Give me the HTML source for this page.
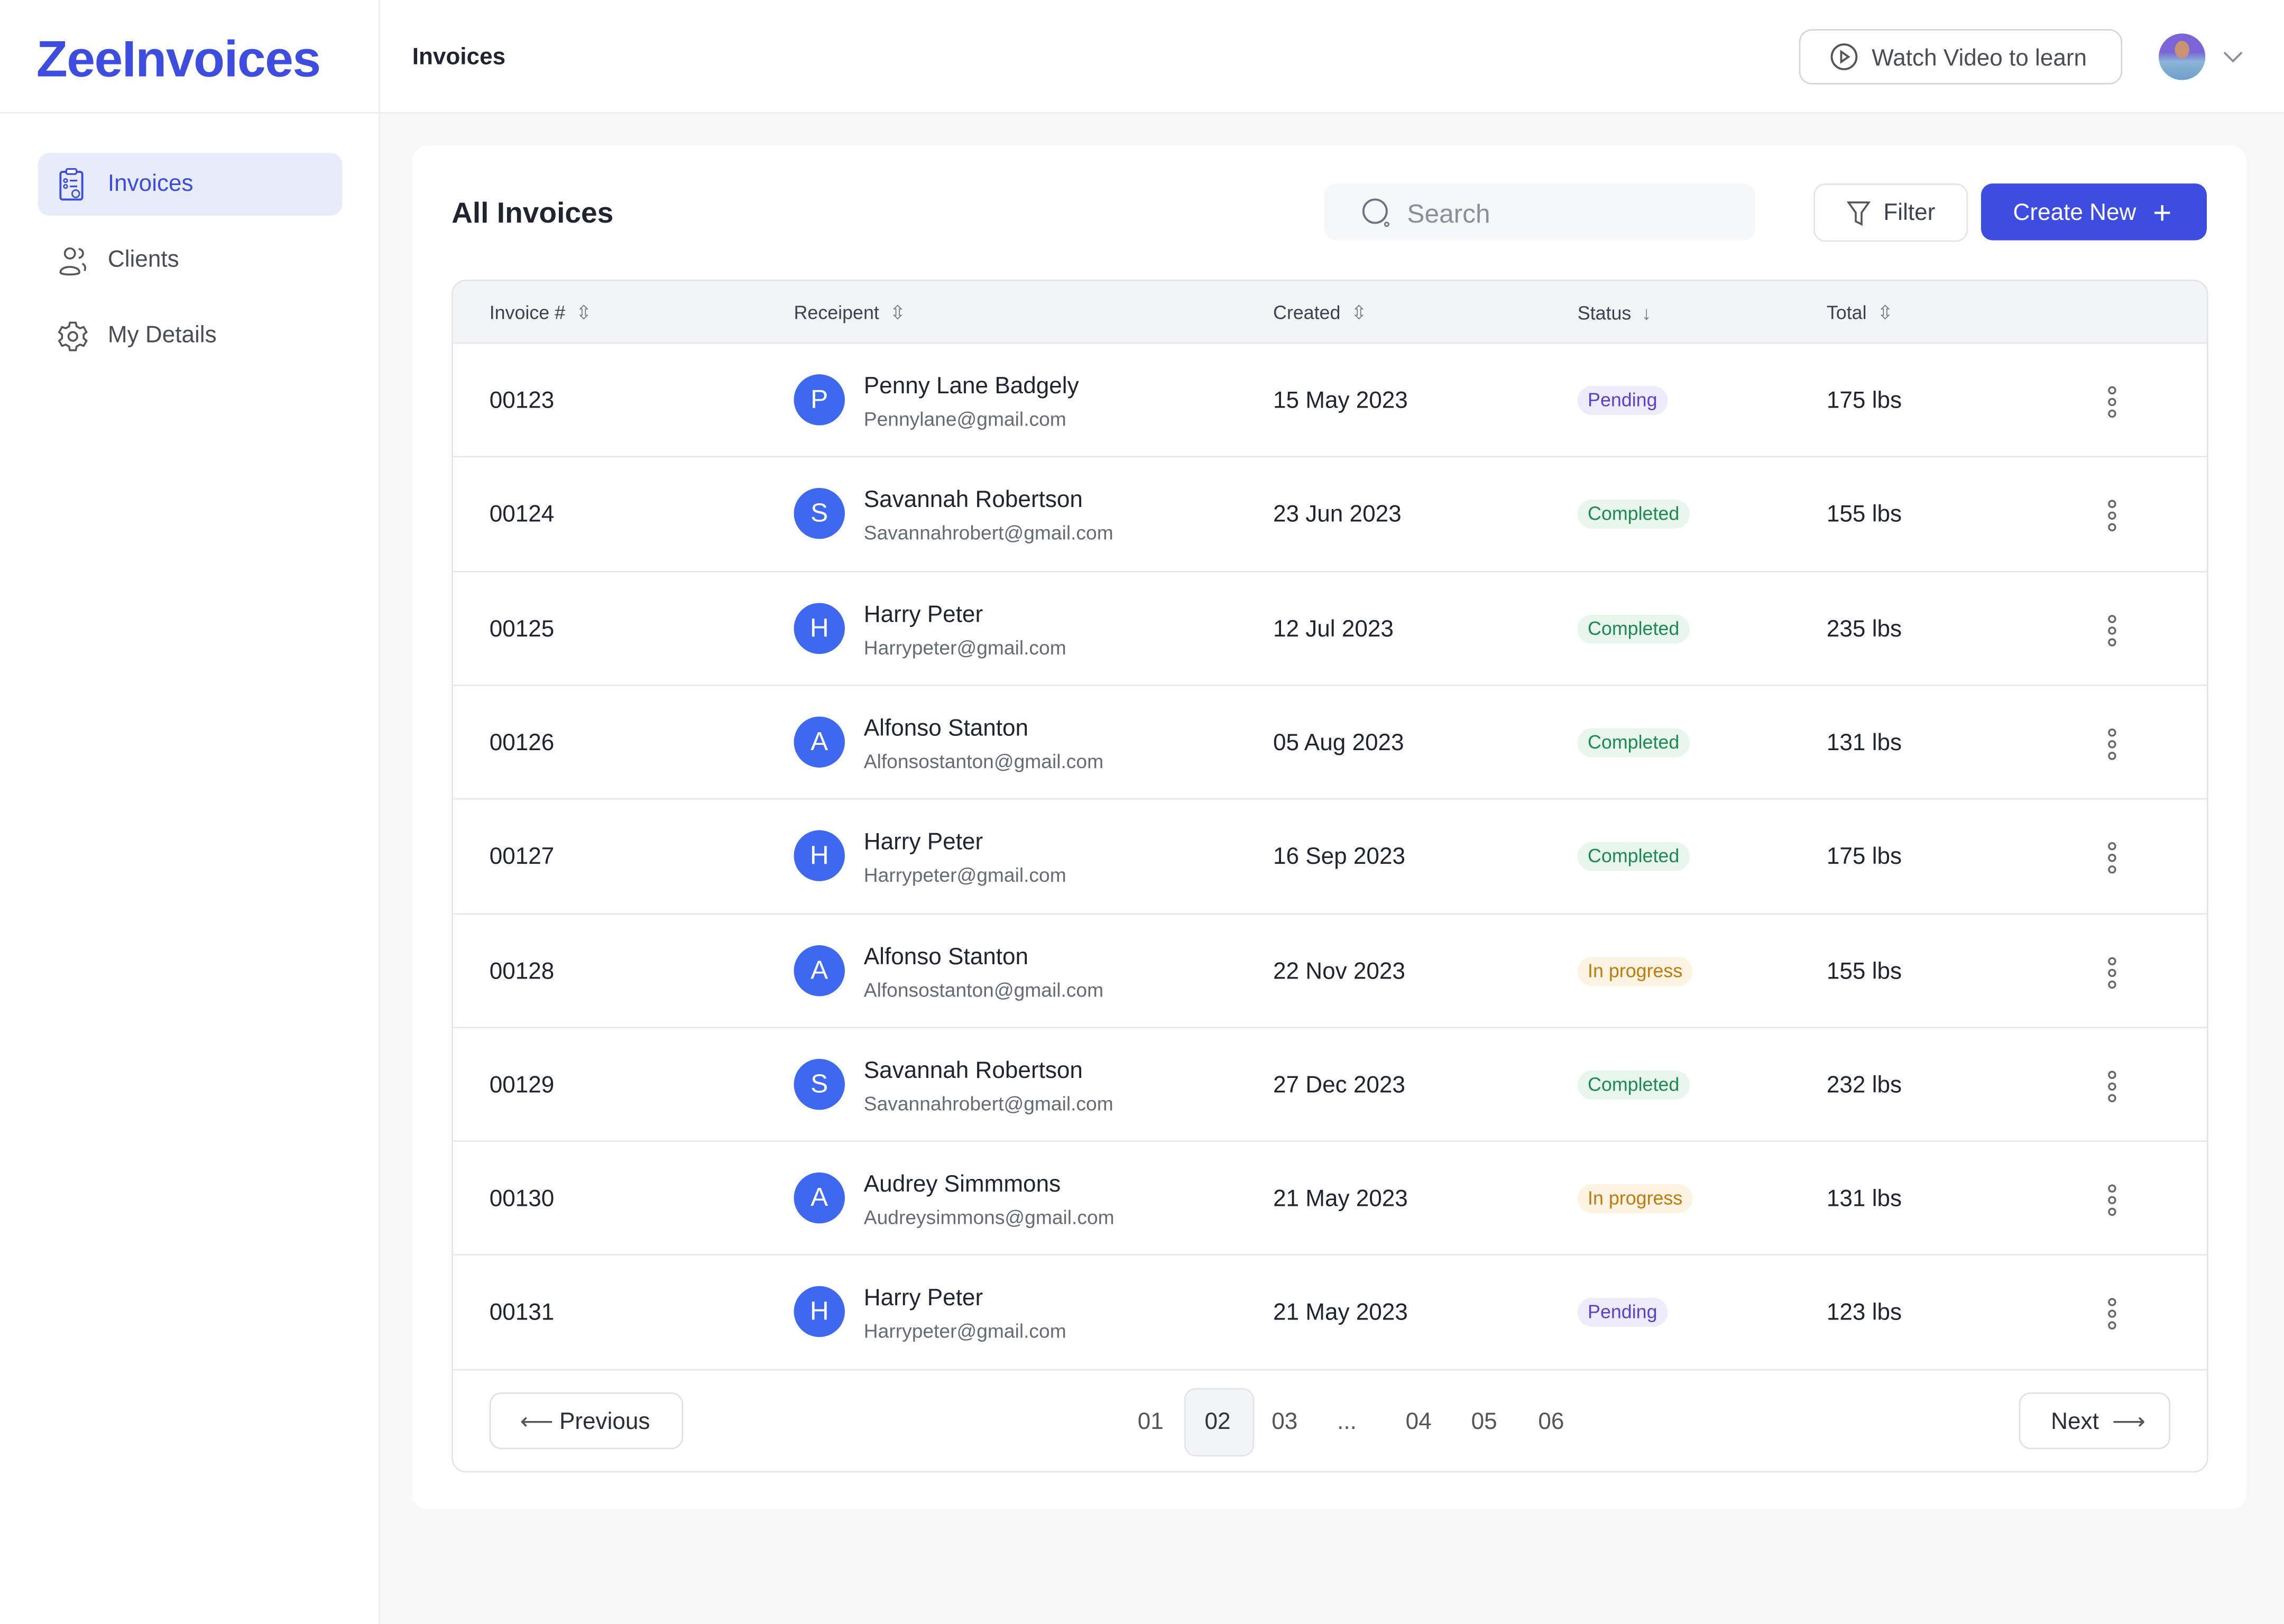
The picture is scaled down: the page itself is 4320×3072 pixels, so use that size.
<!DOCTYPE html>
<html><head><meta charset="utf-8"><style>
html,body{margin:0;padding:0;width:4320px;height:3072px;overflow:hidden;background:#f8f8f9}
#root{position:absolute;left:0;top:0;width:1568px;height:1115px;transform:scale(2.75510);transform-origin:0 0;font-family:"Liberation Sans",sans-serif;color:#1f2430;background:#f8f8f9}
.abs{position:absolute}
.t{position:absolute;white-space:nowrap;transform:translateY(-44%)}
.row{position:absolute;left:0;width:1205px;height:78px;border-top:1px solid #e7e8eb}
.badge{position:absolute;height:20px;line-height:20px;padding:0 7px;border-radius:10px;font-size:13px;transform:translateY(-50%)}
.pending{background:#eeecfb;color:#5a3fd0}
.completed{background:#e8f6ee;color:#1d8a52}
.inprog{background:#fdf3e2;color:#c27a0c}
.av{position:absolute;width:35px;height:35px;border-radius:50%;background:#3e68f0;color:#fff;font-size:18px;text-align:center;line-height:35px}
.hd{font-size:13px;color:#3c4250}
</style></head><body>
<div id="root">
  <div class="abs" style="left:0;top:0;width:260px;height:1115px;background:#fff;border-right:1px solid #ececee"></div>
  <div class="abs" style="left:0;top:0;width:1568px;height:77px;background:#fff;border-bottom:1px solid #ececee"></div>
  <div class="abs" style="left:260px;top:0;width:1px;height:77px;background:#ececee"></div>
  <div class="t" style="left:25px;top:39px;font-size:35px;font-weight:bold;color:#3d4de0;letter-spacing:-0.5px">ZeeInvoices</div>
  <div class="t" style="left:283px;top:39px;font-size:16px;font-weight:bold;color:#1f2430">Invoices</div>
  <div class="abs" style="left:1235px;top:20px;width:220px;height:36px;border:1px solid #d4d6da;border-radius:9px;background:#fff">
    <svg class="abs" style="left:20px;top:8px" width="20" height="20" viewBox="0 0 20 20"><circle cx="10" cy="10" r="8.5" fill="none" stroke="#555" stroke-width="1.4"/><path d="M8 6.5 L13 10 L8 13.5Z" fill="none" stroke="#555" stroke-width="1.4"/></svg>
    <div class="t" style="left:49px;top:19px;font-size:16px;color:#4a4d55">Watch Video to learn</div>
  </div>
  <div class="abs" style="left:1482px;top:23px;width:32px;height:32px;border-radius:50%;background:linear-gradient(#7a64d6 0,#7a64d6 40%,#8bb4d8 60%,#6e9fcb 100%);overflow:hidden">
    <div class="abs" style="left:11px;top:5px;width:10px;height:12px;border-radius:50%;background:#c99373"></div>
  </div>
  <svg class="abs" style="left:1526px;top:34px" width="14" height="10" viewBox="0 0 14 10"><path d="M1 2 L7 8 L13 2" fill="none" stroke="#8a8f99" stroke-width="1.4"/></svg>

  <div class="abs" style="left:26px;top:105px;width:209px;height:43px;background:#e8ecfa;border-radius:8px">
    <svg class="abs" style="left:14px;top:10px" width="18" height="24" viewBox="0 0 18 24"><rect x="1.5" y="3" width="15" height="19" rx="1.5" fill="none" stroke="#3d4de0" stroke-width="1.4"/><rect x="5.5" y="1" width="7" height="3.5" rx="1" fill="#fff" stroke="#3d4de0" stroke-width="1.2"/><circle cx="5" cy="9" r="1.2" fill="none" stroke="#3d4de0"/><circle cx="5" cy="13" r="1.2" fill="none" stroke="#3d4de0"/><path d="M8 9h5M8 13h5" stroke="#3d4de0" stroke-width="1.2"/><circle cx="12" cy="18" r="2.5" fill="none" stroke="#3d4de0"/></svg>
    <div class="t" style="left:48px;top:21px;font-size:16px;color:#3d4de0">Invoices</div>
  </div>
  <div class="abs" style="left:26px;top:157px;width:209px;height:43px">
    <svg class="abs" style="left:14px;top:11px" width="22" height="22" viewBox="0 0 22 22"><circle cx="8" cy="6" r="3.5" fill="none" stroke="#555" stroke-width="1.3"/><path d="M1.5 19c0-5 13-5 13 0c0 2-13 2-13 0z" fill="none" stroke="#555" stroke-width="1.3"/><path d="M14 3a3 3 0 010 6M16.5 13c2 1 2.5 3 1.5 5" fill="none" stroke="#555" stroke-width="1.3"/></svg>
    <div class="t" style="left:48px;top:21px;font-size:16px;color:#4a4d55">Clients</div>
  </div>
  <div class="abs" style="left:26px;top:209px;width:209px;height:43px">
    <svg class="abs" style="left:13px;top:11px" width="22" height="22" viewBox="0 0 22 22"><circle cx="11" cy="11" r="3" fill="none" stroke="#555" stroke-width="1.3"/><path d="M9 1.5h4l.6 2.6 2.3 1.3 2.5-.9 2 3.5-2 1.7v2.6l2 1.7-2 3.5-2.5-.9-2.3 1.3-.6 2.6h-4l-.6-2.6-2.3-1.3-2.5.9-2-3.5 2-1.7V9.7l-2-1.7 2-3.5 2.5.9 2.3-1.3z" fill="none" stroke="#555" stroke-width="1.3"/></svg>
    <div class="t" style="left:48px;top:21px;font-size:16px;color:#4a4d55">My Details</div>
  </div>

  <div class="abs" style="left:283px;top:100px;width:1259px;height:936px;background:#fff;border-radius:10px"></div>
  <div class="t" style="left:310px;top:146px;font-size:20px;font-weight:bold;color:#1f2430">All Invoices</div>
  <div class="abs" style="left:909px;top:126px;width:296px;height:39px;background:#f6f7f8;border-radius:8px">
    <svg class="abs" style="left:25px;top:9px" width="22" height="22" viewBox="0 0 22 22"><circle cx="10" cy="10" r="8" fill="none" stroke="#6b7280" stroke-width="1.4"/><circle cx="18" cy="19" r="1.3" fill="none" stroke="#6b7280"/></svg>
    <div class="t" style="left:57px;top:20px;font-size:18px;color:#8a8f99">Search</div>
  </div>
  <div class="abs" style="left:1245px;top:126px;width:104px;height:38px;border:1px solid #e3e4e7;border-radius:8px;background:#fff">
    <svg class="abs" style="left:22px;top:11px" width="16" height="18" viewBox="0 0 16 18"><path d="M1 1h14l-5 7v8l-4-2V8z" fill="none" stroke="#555" stroke-width="1.3"/></svg>
    <div class="t" style="left:47px;top:19px;font-size:16px;color:#3c4250">Filter</div>
  </div>
  <div class="abs" style="left:1360px;top:126px;width:155px;height:39px;background:#3d4de0;border-radius:8px">
    <div class="t" style="left:22px;top:20px;font-size:16px;color:#fff">Create New</div>
    <div class="t" style="left:118px;top:19px;font-size:22px;color:#fff">+</div>
  </div>

  <div class="abs" style="left:310px;top:192px;width:1204px;height:817px;border:1px solid #e3e4e7;border-radius:10px;overflow:hidden">
    <div class="abs" style="left:0;top:0;width:1205px;height:42px;background:#f3f4f6"></div>
    <div class="t hd" style="left:25px;top:21px">Invoice # &nbsp;<span style="color:#777">⇳</span></div>
    <div class="t hd" style="left:234px;top:21px">Receipent &nbsp;<span style="color:#777">⇳</span></div>
    <div class="t hd" style="left:563px;top:21px">Created &nbsp;<span style="color:#777">⇳</span></div>
    <div class="t hd" style="left:772px;top:21px">Status &nbsp;<span style="color:#777">↓</span></div>
    <div class="t hd" style="left:943px;top:21px">Total &nbsp;<span style="color:#777">⇳</span></div>
    <div id="rows"></div>
    <div class="abs" style="left:0;top:747px;width:1205px;height:1px;background:#e7e8eb"></div>
    <div class="abs" style="left:25px;top:763px;width:131px;height:37px;border:1px solid #dfe0e3;border-radius:8px">
      <div class="t" style="left:20px;top:18px;font-size:16px;color:#555">⟵</div>
      <div class="t" style="left:47px;top:19px;font-size:16px;color:#2a2e38">Previous</div>
    </div>
    <div class="abs" style="left:502px;top:760px;width:46px;height:45px;background:#f3f4f6;border:1px solid #e3e4e7;border-radius:8px"></div>
    <div class="t" style="left:470px;top:783px;font-size:16px;color:#555">01</div>
    <div class="t" style="left:516px;top:783px;font-size:16px;color:#333">02</div>
    <div class="t" style="left:562px;top:783px;font-size:16px;color:#555">03</div>
    <div class="t" style="left:607px;top:783px;font-size:16px;color:#555">...</div>
    <div class="t" style="left:654px;top:783px;font-size:16px;color:#555">04</div>
    <div class="t" style="left:699px;top:783px;font-size:16px;color:#555">05</div>
    <div class="t" style="left:745px;top:783px;font-size:16px;color:#555">06</div>
    <div class="abs" style="left:1075px;top:763px;width:102px;height:37px;border:1px solid #dfe0e3;border-radius:8px">
      <div class="t" style="left:21px;top:19px;font-size:16px;color:#2a2e38">Next</div>
      <div class="t" style="left:63px;top:18px;font-size:16px;color:#555">⟶</div>
    </div>
  </div>
</div>
<script>
const ids=["00123","00124","00125","00126","00127","00128","00129","00130","00131"];
const names=["Penny Lane Badgely","Savannah Robertson","Harry Peter","Alfonso Stanton","Harry Peter","Alfonso Stanton","Savannah Robertson","Audrey Simmmons","Harry Peter"];
const emails=["Pennylane@gmail.com","Savannahrobert@gmail.com","Harrypeter@gmail.com","Alfonsostanton@gmail.com","Harrypeter@gmail.com","Alfonsostanton@gmail.com","Savannahrobert@gmail.com","Audreysimmons@gmail.com","Harrypeter@gmail.com"];
const dates=["15 May 2023","23 Jun 2023","12 Jul 2023","05 Aug 2023","16 Sep 2023","22 Nov 2023","27 Dec 2023","21 May 2023","21 May 2023"];
const statuses=["Pending","Completed","Completed","Completed","Completed","In progress","Completed","In progress","Pending"];
const totals=["175 lbs","155 lbs","235 lbs","131 lbs","175 lbs","155 lbs","232 lbs","131 lbs","123 lbs"];
const rowsEl=document.getElementById('rows');
const cls={"Pending":"pending","Completed":"completed","In progress":"inprog"};
ids.forEach((id,i)=>{
  const r=document.createElement('div');
  r.className='row';
  r.style.top=(42+i*78.3)+'px';
  
  
  r.innerHTML=
   '<div class="t" style="left:25px;top:39px;font-size:16px;color:#1f2430">'+id+'</div>'+
   '<div class="av" style="left:234px;top:21px">'+names[i][0]+'</div>'+
   '<div class="t" style="left:282px;top:29px;font-size:16px;color:#1f2430">'+names[i]+'</div>'+
   '<div class="t" style="left:282px;top:51px;font-size:13.5px;color:#666a73">'+emails[i]+'</div>'+
   '<div class="t" style="left:563px;top:39px;font-size:16px;color:#1f2430">'+dates[i]+'</div>'+
   '<div class="badge '+cls[statuses[i]]+'" style="left:772px;top:39px">'+statuses[i]+'</div>'+
   '<div class="t" style="left:943px;top:39px;font-size:16px;color:#1f2430">'+totals[i]+'</div>'+
   '<svg class="abs" style="left:1134px;top:29px" width="10" height="22" viewBox="0 0 10 22"><circle cx="5" cy="3" r="2.2" fill="none" stroke="#666" stroke-width="1.2"/><circle cx="5" cy="11" r="2.2" fill="none" stroke="#666" stroke-width="1.2"/><circle cx="5" cy="19" r="2.2" fill="none" stroke="#666" stroke-width="1.2"/></svg>';
  rowsEl.appendChild(r);
});
</script>
</body></html>
